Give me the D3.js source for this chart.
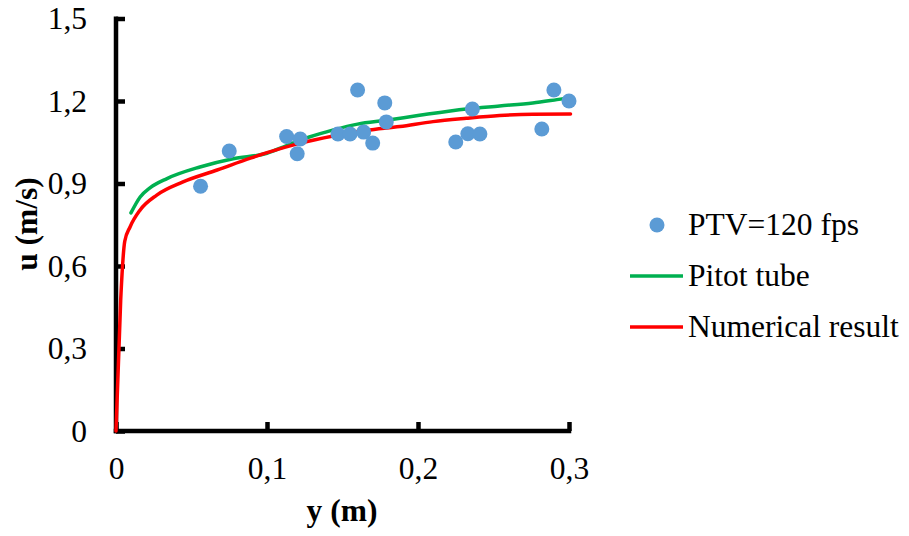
<!DOCTYPE html>
<html>
<head>
<meta charset="utf-8">
<script src="https://cdn.jsdelivr.net/npm/d3@7"></script>
<style>
  html, body { margin: 0; padding: 0; background: #fff; }
  svg { display: block; }
  text { font-family: "Liberation Serif", "DejaVu Serif", serif; fill: #000; }
</style>
</head>
<body>
<svg id="chart" width="909" height="536"></svg>
<script>
// PTV measurements (y in m, u in m/s)
const ptvY = [0.056, 0.075, 0.113, 0.122, 0.120, 0.147, 0.155, 0.160, 0.164, 0.170,
              0.178, 0.179, 0.225, 0.233, 0.236, 0.241, 0.282, 0.290, 0.300];
const ptvU = [0.89, 1.018, 1.071, 1.062, 1.008, 1.080, 1.080, 1.240, 1.087, 1.047,
              1.193, 1.124, 1.051, 1.081, 1.171, 1.080, 1.098, 1.240, 1.200];

// Pitot tube profile
const pitotY = [0.0099, 0.016, 0.0225, 0.0338, 0.0556, 0.0775, 0.1, 0.113, 0.128,
                0.144, 0.160, 0.179, 0.201, 0.232, 0.254, 0.276, 0.292, 0.301];
const pitotU = [0.793, 0.851, 0.884, 0.918, 0.960, 0.990, 1.010, 1.038, 1.069,
                1.095, 1.116, 1.130, 1.148, 1.171, 1.182, 1.193, 1.205, 1.212];

// Numerical profile
const numY = [0, 0.0031, 0.0058, 0.0093, 0.016, 0.027, 0.044, 0.067, 0.089, 0.1,
              0.122, 0.144, 0.166, 0.188, 0.210, 0.232, 0.254, 0.276, 0.301];
const numU = [0, 0.476, 0.69, 0.742, 0.804, 0.858, 0.905, 0.949, 0.992, 1.012,
              1.047, 1.073, 1.093, 1.107, 1.125, 1.137, 1.147, 1.152, 1.153];

const xTicks = [0, 0.1, 0.2, 0.3];
const yTicks = [0, 0.3, 0.6, 0.9, 1.2, 1.5];

const legendLabels = ["PTV=120 fps", "Pitot tube", "Numerical result"];
const colors = { ptv: "#5B9BD5", pitot: "#00B050", num: "#FF0000" };

const svg = d3.select("#chart");
const fontSize = 31.5;
const serif = "'Liberation Serif', 'DejaVu Serif', serif";

const x = d3.scaleLinear().domain([0, 0.3]).range([116, 569]);
const y = d3.scaleLinear().domain([0, 1.5]).range([431, 18.5]);

const fmt = d => d === 0 ? "0" : d3.format(".1f")(d).replace(".", ",");

// Axes
const xAxis = svg.append("g")
  .attr("transform", `translate(0,${y(0)})`)
  .call(d3.axisBottom(x).tickValues(xTicks).tickFormat(fmt)
        .tickSize(-9).tickSizeOuter(0).tickPadding(26));
const yAxis = svg.append("g")
  .attr("transform", `translate(${x(0)},0)`)
  .call(d3.axisLeft(y).tickValues(yTicks).tickFormat(fmt)
        .tickSize(-9).tickSizeOuter(0).tickPadding(29));

[xAxis, yAxis].forEach(g => {
  g.attr("font-family", serif).attr("font-size", fontSize);
  g.select(".domain").attr("stroke", "#000").attr("stroke-width", 4.5);
  g.selectAll(".tick line").attr("stroke", "#000").attr("stroke-width", 4.5);
  g.selectAll(".tick text")
    .style("font-family", serif)
    .style("font-size", fontSize + "px")
    .attr("fill", "#000");
});
// extend the axis lines so they meet at the corner
xAxis.select(".domain").attr("d", `M${x(0) - 2.25},0H${x(0.3) + 2.25}`);
yAxis.select(".domain").attr("d", `M0,${y(1.5) - 2}V${y(0) + 2.25}`);

// Axis titles
svg.append("text")
  .attr("x", 342).attr("y", 521)
  .attr("text-anchor", "middle")
  .style("font-family", serif)
  .style("font-size", fontSize + "px").style("font-weight", "bold")
  .text("y (m)");
svg.append("text")
  .attr("transform", "translate(37,224) rotate(-90)")
  .attr("text-anchor", "middle")
  .style("font-family", serif)
  .style("font-size", fontSize + "px").style("font-weight", "bold")
  .text("u (m/s)");

// Curves
const line = d3.line().x(d => x(d[0])).y(d => y(d[1])).curve(d3.curveMonotoneX);
const pitot = d3.zip(pitotY, pitotU);
const num = d3.zip(numY, numU);

svg.append("path").datum(pitot)
  .attr("d", line).attr("fill", "none")
  .attr("stroke", colors.pitot).attr("stroke-width", 3.5).attr("stroke-linecap", "round");
svg.append("path").datum(num)
  .attr("d", line).attr("fill", "none")
  .attr("stroke", colors.num).attr("stroke-width", 3.5).attr("stroke-linecap", "round");

// Points
svg.append("g").selectAll("circle")
  .data(d3.zip(ptvY, ptvU))
  .join("circle")
  .attr("cx", d => x(d[0])).attr("cy", d => y(d[1]))
  .attr("r", 7.5).attr("fill", colors.ptv);

// Legend
const legend = svg.append("g");
legend.append("circle").attr("cx", 657).attr("cy", 225).attr("r", 7.5).attr("fill", colors.ptv);
legend.append("line").attr("x1", 630).attr("x2", 683).attr("y1", 276).attr("y2", 276)
  .attr("stroke", colors.pitot).attr("stroke-width", 3.5);
legend.append("line").attr("x1", 630).attr("x2", 683).attr("y1", 327).attr("y2", 327)
  .attr("stroke", colors.num).attr("stroke-width", 3.5);
legend.selectAll("text.lbl")
  .data(legendLabels)
  .join("text")
  .attr("class", "lbl")
  .attr("x", 688)
  .attr("y", (d, i) => 235 + i * 51)
  .style("font-family", serif)
  .style("font-size", fontSize + "px")
  .text(d => d);
</script>
</body>
</html>
